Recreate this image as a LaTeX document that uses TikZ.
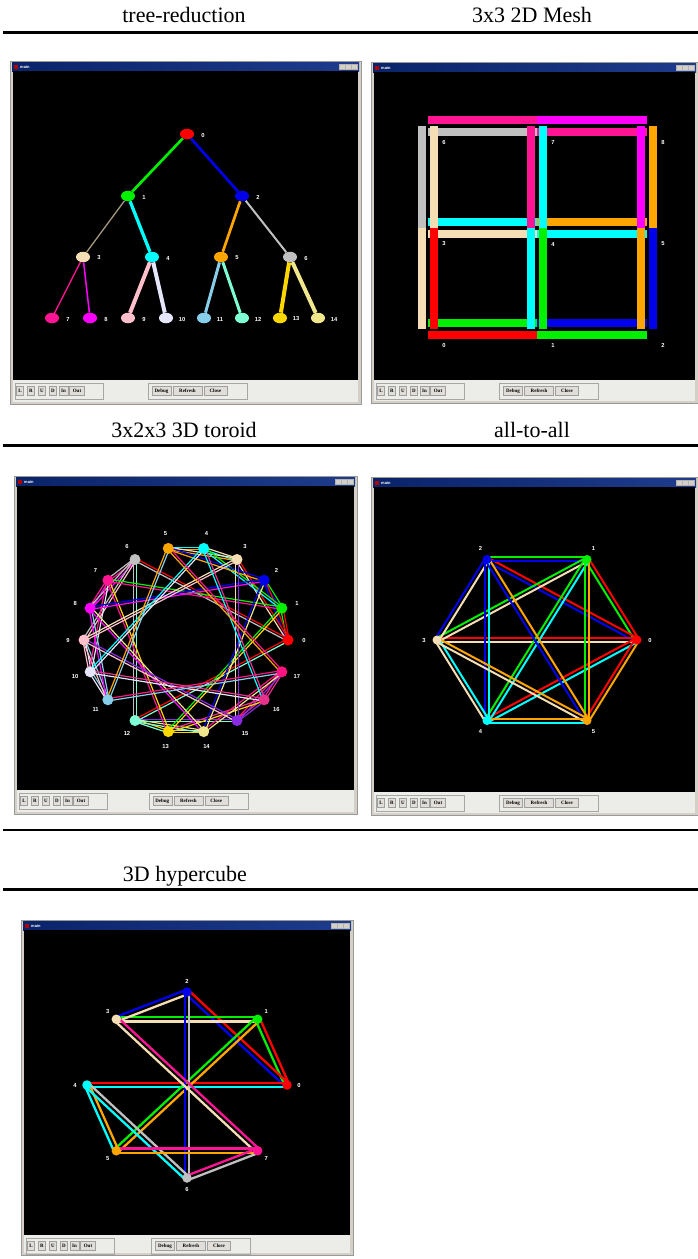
\documentclass[tikz,border=0pt]{standalone}
\usepackage{fontspec}
\setmainfont{Liberation Serif}
\newfontfamily\labelfont{Liberation Sans}
\usepackage{tikz}
\usetikzlibrary{calc,shapes.geometric}

\definecolor{nc0}{RGB}{255,0,0}
\definecolor{nc1}{RGB}{0,240,0}
\definecolor{nc2}{RGB}{0,0,235}
\definecolor{nc3}{RGB}{245,222,179}
\definecolor{nc4}{RGB}{0,255,255}
\definecolor{nc5}{RGB}{255,165,0}
\definecolor{nc6}{RGB}{192,192,192}
\definecolor{nc7}{RGB}{255,20,147}
\definecolor{nc8}{RGB}{255,0,255}
\definecolor{nc9}{RGB}{255,192,203}
\definecolor{nc10}{RGB}{230,230,250}
\definecolor{nc11}{RGB}{135,206,235}
\definecolor{nc12}{RGB}{127,255,212}
\definecolor{nc13}{RGB}{255,215,0}
\definecolor{nc14}{RGB}{240,230,140}
\definecolor{nc15}{RGB}{138,43,226}
\definecolor{nc16}{RGB}{230,50,140}
\definecolor{nc17}{RGB}{255,20,130}
\definecolor{treetan}{RGB}{165,150,128}
\definecolor{winframe}{RGB}{212,208,200}
\definecolor{toolbg}{RGB}{236,236,232}
\definecolor{titleL}{RGB}{10,36,106}
\definecolor{titleR}{RGB}{30,60,140}

\pgfdeclarelayer{winlayer}
\pgfdeclarelayer{edgelayer}
\pgfsetlayers{winlayer,edgelayer,main}

% each link is drawn twice, once in the colour of either end
\newcommand{\linkgap}{2pt}
\newcommand{\linkpair}[3]{%
  \draw[link, draw=nc#2] ($(#1#2)!\linkgap!-90:(#1#3)$) -- ($(#1#3)!\linkgap!90:(#1#2)$);
  \draw[link, draw=nc#3] ($(#1#3)!\linkgap!-90:(#1#2)$) -- ($(#1#2)!\linkgap!90:(#1#3)$);}

% screenshot window: prefix, left, top, right, canvas bottom, bottom
\newcommand{\appwin}[6]{%
  \begin{pgfonlayer}{winlayer}
    \pgfmathsetmacro{\gx}{#2+0.393*(#4-#2)}
    \fill[winframe] (#2,#3) rectangle (#4,#6);
    \draw[gray!80, line width=0.8pt] (#2,#3) rectangle (#4,#6);
    \shade[left color=titleL, right color=titleR] (#2+2,#3+1.5) rectangle (#4-2,#3+10);
    \fill[red!70!black] (#2+3.5,#3+3.5) rectangle (#2+7.5,#3+8);
    \node[wintitle] (#1-title) at (#2+10,#3+5.8) {main};
    \foreach \bx in {16,10,3.5}
      \draw[gray!60, fill=winframe, line width=0.4pt] (#4-\bx-6,#3+3) rectangle (#4-\bx,#3+8.5);
    \fill[black] (#2+3,#3+10) rectangle (#4-3,#5);
    \fill[toolbg] (#2+3,#5) rectangle (#4-3,#6-2);
    \draw[gray!70] (#2+5,#5+3) rectangle (#2+93,#5+19);
    \draw[gray!70] (\gx,#5+3) rectangle (\gx+99,#5+19);
    \foreach \bt/\bc/\w [count=\bn] in {L/10/7,R/21/7,U/32/7,D/43/7,In/53.5/9,Out/67/15}
      \node[guibtn, minimum width=\w] (#1-b\bn) at (#2+\bc,#5+11) {\bt};
    \foreach \bt/\bc/\w [count=\bn] in {Debug/13.5/19,Refresh/39.5/29,Close/67.5/23}
      \node[guibtn, minimum width=\w] (#1-c\bn) at (\gx+\bc,#5+11) {\bt};
  \end{pgfonlayer}}

\begin{document}
\begin{tikzpicture}[x=1pt, y=-1pt,
  heading/.style={font=\fontsize{22}{26}\selectfont, anchor=base, inner sep=0},
  rulethick/.style={line width=3pt},
  lbl/.style={text=white, inner sep=0, font=\labelfont\fontsize{5.8}{6}\selectfont\bfseries},
  wintitle/.style={text=white, anchor=west, inner sep=0, font=\labelfont\fontsize{4}{4}\selectfont\bfseries},
  guibtn/.style={draw=gray!75, fill=winframe!70, line width=0.4pt, minimum height=9pt,
    inner sep=0, font=\fontsize{5}{5}\selectfont\bfseries},
  tnode/.style={ellipse, inner sep=0, minimum width=14pt, minimum height=10.5pt},
  gnode/.style={circle, inner sep=0},
  mnode/.style={inner sep=0, minimum size=0pt},
  link/.style={line cap=butt}
]
  \useasboundingbox (0,0) rectangle (698,1259);
  \begin{pgfonlayer}{winlayer}
    \fill[white] (0,0) rectangle (698,1259);
  \end{pgfonlayer}

  % table headings and rules
  \node[heading] (head-tree) at (184,22) {tree-reduction};
  \node[heading] (head-mesh) at (532,22) {3x3 2D Mesh};
  \draw[rulethick] (3,32) -- (698,32);
  \node[heading] (head-torus) at (184,437) {3x2x3 3D toroid};
  \node[heading] (head-all) at (532,437) {all-to-all};
  \draw[rulethick] (3,445) -- (698,445);
  \draw[rulethick, line width=2.2pt] (3,830) -- (698,830);
  \node[heading] (head-cube) at (185,881) {3D hypercube};
  \draw[rulethick] (3,889) -- (698,889);

  \appwin{tw}{10}{61}{361}{380}{404}
  \appwin{mw}{371}{62}{698}{380}{403}
  \appwin{rw}{14}{476}{357}{790}{814}
  \appwin{aw}{371}{477}{698}{792}{815}
  \appwin{hw}{21}{920}{353}{1235}{1255}

  % tree-reduction
  \foreach \k/\x/\y in {0/187/134, 1/128/196, 2/242/196, 3/83/257, 4/152/257, 5/221/257,
      6/290/257, 7/52/318, 8/90/318, 9/128/318, 10/166/318, 11/204/318, 12/242/318,
      13/280/318, 14/318/318} {
    \node[tnode, fill=nc\k] (t\k) at (\x,\y) {};
    \node[lbl] (t\k-l) at (\x+16,\y+1) {\k};
  }
  \begin{pgfonlayer}{edgelayer}
    \foreach \p/\c/\w in {0/1/2.7, 0/2/2.7, 1/4/3.3, 2/5/2.7, 2/6/2, 3/7/1.3, 3/8/1.5,
        4/9/4, 4/10/4, 5/11/3, 5/12/3, 6/13/4, 6/14/4}
      \draw[draw=nc\c, line width=\w pt] (t\p) -- (t\c);
    \draw[treetan, line width=1.3pt] (t1) -- (t3);
  \end{pgfonlayer}

  % 3x3 mesh
  \foreach \k/\x/\y in {0/428/329, 1/537/329, 2/647/329, 3/428/228, 4/537/228, 5/647/228,
      6/428/126, 7/537/126, 8/647/126} {
    \node[mnode] (m\k) at (\x,\y) {};
    \node[lbl] (m\k-l) at (\x+16,\y+16) {\k};
  }
  \begin{scope}[link/.append style={line width=8.5pt}]
    \renewcommand{\linkgap}{6pt}
    \foreach \i/\j in {0/1, 1/2, 3/4, 4/5, 6/7, 7/8, 0/3, 3/6, 1/4, 4/7, 2/5, 5/8}
      {\linkpair{m}{\i}{\j}}
  \end{scope}

  % 3x2x3 toroid
  \foreach \k in {0,...,17} {
    \node[gnode, fill=nc\k, minimum size=11pt] (r\k) at ({186+102*cos(20*\k)},{640-93*sin(20*\k)}) {};
    \node[lbl] (r\k-l) at ({186+118*cos(20*\k)},{640-108*sin(20*\k)}) {\k};
  }
  \begin{scope}[link/.append style={line width=1.2pt}]
    \renewcommand{\linkgap}{1.2pt}
    \begin{pgfonlayer}{edgelayer}
      \foreach \i/\j in {0/1,1/2,0/2, 3/4,4/5,3/5, 6/7,7/8,6/8, 9/10,10/11,9/11,
          12/13,13/14,12/14, 15/16,16/17,15/17,
          0/3,1/4,2/5,6/9,7/10,8/11,12/15,13/16,14/17,
          0/6,6/12,0/12, 1/7,7/13,1/13, 2/8,8/14,2/14, 3/9,9/15,3/15,
          4/10,10/16,4/16, 5/11,11/17,5/17}
        {\linkpair{r}{\i}{\j}}
    \end{pgfonlayer}
  \end{scope}

  % all-to-all
  \foreach \k in {0,...,5} {
    \node[gnode, fill=nc\k, minimum size=9pt] (a\k) at ({537+100*cos(60*\k)},{640-93*sin(60*\k)}) {};
    \node[lbl] (a\k-l) at ({537+113*cos(60*\k)},{640-106*sin(60*\k)}) {\k};
  }
  \begin{scope}[link/.append style={line width=2pt}]
    \renewcommand{\linkgap}{2pt}
    \begin{pgfonlayer}{edgelayer}
      \foreach \i/\j in {0/1,0/2,0/3,0/4,0/5,1/2,1/3,1/4,1/5,2/3,2/4,2/5,3/4,3/5,4/5}
        {\linkpair{a}{\i}{\j}}
    \end{pgfonlayer}
  \end{scope}

  % 3D hypercube
  \foreach \k in {0,...,7} {
    \node[gnode, fill=nc\k, minimum size=9.5pt] (h\k) at ({187+100*cos(45*\k)},{1085-93*sin(45*\k)}) {};
    \node[lbl] (h\k-l) at ({187+112*cos(45*\k)},{1085-104*sin(45*\k)}) {\k};
  }
  \begin{scope}[link/.append style={line width=2.3pt}]
    \renewcommand{\linkgap}{2.3pt}
    \begin{pgfonlayer}{edgelayer}
      \foreach \i/\j in {0/1,0/2,0/4,1/3,1/5,2/3,2/6,3/7,4/5,4/6,5/7,6/7}
        {\linkpair{h}{\i}{\j}}
    \end{pgfonlayer}
  \end{scope}
\end{tikzpicture}
\end{document}
